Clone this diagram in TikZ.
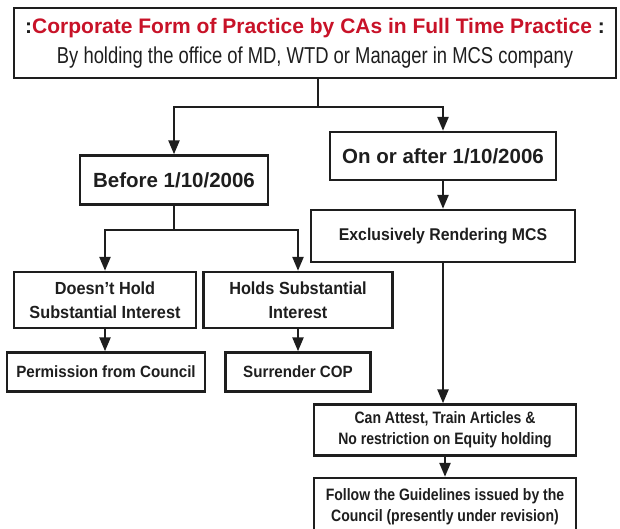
\documentclass[tikz,border=0pt]{standalone}
\usepackage{fontspec}
\usetikzlibrary{arrows.meta}
\setmainfont{Liberation Sans}
\newfontfamily\condfont[FakeStretch=0.8]{Liberation Sans}
\newfontfamily\condbold[FakeStretch=0.93]{Liberation Sans Bold}
\newfontfamily\narrowbold[FakeStretch=0.85]{Liberation Sans Bold}
\definecolor{titlered}{RGB}{200,18,40}
\definecolor{ink}{RGB}{30,30,30}
\tikzset{
  box/.style={draw=ink, line width=2.4pt, fill=white, align=center, inner sep=0pt, text=ink},
  link/.style={draw=ink, line width=2.4pt},
  arrowlink/.style={link, -{Triangle[length=14pt,width=11pt]}},
}
\begin{document}
\begin{tikzpicture}[x=1pt,y=-1pt]
\useasboundingbox (0,0) rectangle (620,529);
\clip (0,0) rectangle (620,529);

% heading box
\node[box, minimum width=602, minimum height=70] (top) at (315,43) {%
  {\fontsize{21}{24}\bfseries :\textcolor{titlered}{Corporate Form of Practice by CAs in Full Time Practice} :}\\[8pt]
  {\condfont\fontsize{23}{25}\selectfont By holding the office of MD, WTD or Manager in MCS company}};

% date branches
\node[box, minimum width=188, minimum height=49, font=\bfseries\fontsize{20.5}{22}\selectfont] (before) at (174,180) {Before 1/10/2006};
\node[box, minimum width=226, minimum height=48, font=\bfseries\fontsize{20.5}{22}\selectfont] (after) at (443,156) {On or after 1/10/2006};

% before branch
\node[box, minimum width=182, minimum height=56, font=\condbold\fontsize{17.5}{24}\selectfont] (nohold) at (105,300) {Doesn’t Hold\\Substantial Interest};
\node[box, minimum width=189, minimum height=56, font=\condbold\fontsize{17.5}{24}\selectfont] (hold) at (298,300) {Holds Substantial\\Interest};
\node[box, minimum width=198, minimum height=39, font=\condbold\fontsize{16.3}{20}\selectfont] (perm) at (106,372) {Permission from Council};
\node[box, minimum width=145, minimum height=39, font=\condbold\fontsize{16.3}{20}\selectfont] (cop) at (298,372) {Surrender COP};

% after branch
\node[box, minimum width=264, minimum height=52, font=\condbold\fontsize{17}{20}\selectfont] (mcs) at (443,236) {Exclusively Rendering MCS};
\node[box, minimum width=262, minimum height=51, font=\narrowbold\fontsize{16.5}{21}\selectfont] (attest) at (445,430) {Can Attest, Train Articles \&\\No restriction on Equity holding};
\node[box, minimum width=262, minimum height=58, font=\narrowbold\fontsize{16.5}{21}\selectfont] (guide) at (445,507) {Follow the Guidelines issued by the\\Council (presently under revision)};

% connectors
\coordinate (j1) at (318,107);
\coordinate (j2) at (174,230);
\draw[link] (top.south -| j1) -- (j1);
\draw[arrowlink] (j1) -| (before.north);
\draw[arrowlink] (j1) -| (after.north);
\draw[arrowlink] (after.south) -- (mcs.north);
\draw[link] (before.south) -- (j2);
\draw[arrowlink] (j2) -| (nohold.north);
\draw[arrowlink] (j2) -| (hold.north);
\draw[arrowlink] (nohold.south) -- (nohold.south |- perm.north);
\draw[arrowlink] (hold.south) -- (cop.north);
\draw[arrowlink] (mcs.south) -- (mcs.south |- attest.north);
\draw[arrowlink] (attest.south) -- (guide.north);
\end{tikzpicture}
\end{document}
